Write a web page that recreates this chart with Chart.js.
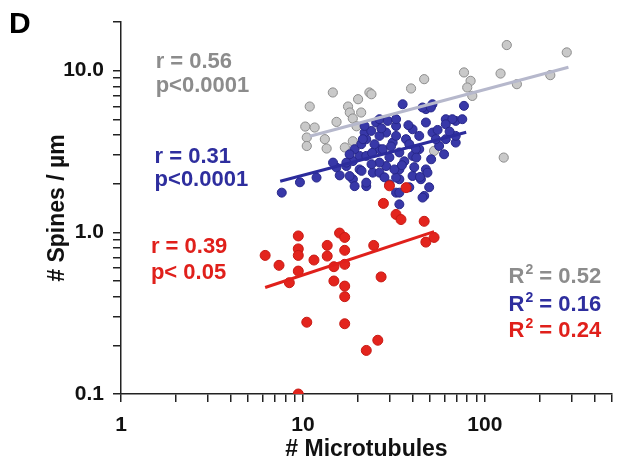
<!DOCTYPE html>
<html>
<head>
<meta charset="utf-8">
<script src="https://cdn.jsdelivr.net/npm/chart.js@4.4.1/dist/chart.umd.min.js"></script>
<style>
  html, body { margin: 0; padding: 0; background: #fff; }
</style>
</head>
<body>
<canvas id="chart" width="632" height="466"></canvas>
<script>
// values (log-log axes)
const grayX = [132, 282, 76.8, 83.5, 122, 150, 229, 80, 85.3, 46.4, 39.3, 14.6, 23.2, 20.1, 10.9, 17.7, 18.1, 20.9, 18.8, 15.3,
               10.3, 11.6, 10.5, 13.2, 10.5, 13.5, 17.0, 127, 52.6, 19.7, 18.8, 23.8];
const grayY = [14.4, 12.97, 9.75, 8.65, 9.6, 8.25, 9.38, 7.87, 6.98, 8.86, 7.76, 7.33, 7.33, 6.66, 6.0, 6.0, 5.51, 5.51, 5.06, 4.82,
               4.51, 4.45, 3.86, 3.77, 3.42, 3.30, 3.35, 2.90, 3.19, 4.53, 3.66, 7.15];

const blueX = [7.65, 11.88, 15.29, 17.33, 18.83, 20.49, 19.24, 20.93, 22.29, 21.82, 23.74, 25.27, 26.35, 29.25, 32.51, 35.33, 47.42, 51.52,
               76.78, 60.99, 69.17, 75.16, 60.99, 69.17, 47.42, 40.06, 33.89, 28.67, 24.23, 18.83, 22.29, 32.51, 46.42, 33.89, 33.89,
               40.06, 26.35, 31.15, 36.87, 43.59, 51.52, 56.07, 43.59, 26.35, 22.29, 28.67, 40.06, 47.42, 45.44, 50.5, 66.27, 60.99,
               32.51, 21.82, 69.17, 53.78, 21.36, 26.35, 32.51, 27.47, 33.89, 41.82, 17.33, 14.64, 19.24, 22.29, 32.51, 33.89, 45.44,
               44.53, 48.38, 26.35, 18.06, 29.88, 36.09, 23.83, 38.43, 29.88, 50.68, 59.7, 24.74, 18.06, 40.93, 31.82, 49.43, 38.43,
               20.49, 28.06, 15.93, 9.63, 24.0, 30.5, 35.0, 42.0, 27.0, 38.0, 44.0, 21.0, 55.0, 64.0];
const blueY = [1.76, 2.18, 2.52, 2.57, 2.76, 2.97, 3.27, 3.51, 3.77, 4.14, 4.24, 4.78, 5.01, 4.89, 4.55, 6.2, 5.78, 6.2,
               6.06, 5.01, 4.89, 5.01, 3.77, 3.59, 2.45, 2.23, 2.13, 2.57, 2.34, 2.13, 1.93, 1.76, 1.68, 1.49, 2.45,
               2.97, 3.27, 3.59, 3.77, 3.95, 4.14, 3.42, 3.27, 2.7, 2.97, 4.14, 4.34, 4.78, 5.92, 5.92, 5.01, 4.66,
               5.01, 4.55, 3.95, 3.77, 3.77, 3.95, 3.95, 3.27, 3.12, 3.27, 2.7, 2.7, 1.93, 2.03, 2.18, 1.76, 1.64,
               2.13, 2.34, 2.34, 2.23, 2.91, 2.75, 2.64, 1.9, 1.98, 2.83, 3.04, 3.51, 3.04, 2.53, 2.45, 1.9, 3.51,
               2.45, 2.19, 2.25, 2.04, 3.1, 3.4, 2.6, 2.9, 4.4, 4.6, 2.2, 2.4, 4.3, 4.2];

const redX = [6.2, 7.39, 9.43, 9.43, 9.43, 9.43, 8.42, 11.5, 13.6, 13.6, 14.8, 14.8, 15.9, 16.97, 16.97, 16.97, 16.97,
              16.97, 24.5, 26.9, 10.5, 16.97, 22.3, 25.8, 29.9, 36.9, 27.7, 32.5, 34.6, 46.4, 47.4, 52.6, 9.43];
const redY = [0.72, 0.625, 0.95, 0.79, 0.72, 0.576, 0.488, 0.674, 0.83, 0.713, 0.613, 0.5, 0.99, 0.93, 0.774, 0.634, 0.465,
              0.4, 0.83, 0.53, 0.278, 0.272, 0.186, 0.215, 1.94, 1.89, 1.51, 1.29, 1.2, 1.17, 0.87, 0.93, 0.1];

// regression lines (end points)
const grayFitX = [10.9, 288];
const grayFitY = [3.93, 10.5];
const blueFitX = [7.5, 79];
const blueFitY = [2.07, 4.16];
const redFitX = [6.2, 52.6];
const redFitY = [0.456, 1.01];

// axis ticks
const xTicks = [1, 2, 3, 4, 5, 6, 7, 8, 9, 10, 20, 30, 40, 50, 60, 70, 80, 90, 100, 200, 300, 400, 500];
const xLabelValues = [1, 10, 100];
const xLabelText = ['1', '10', '100'];
const yTicks = [0.1, 0.2, 0.3, 0.4, 0.5, 0.6, 0.7, 0.8, 0.9, 1, 2, 3, 4, 5, 6, 7, 8, 9, 10, 20];
const yLabelValues = [0.1, 1, 10];
const yLabelText = ['0.1', '1.0', '10.0'];

const GRAY = '#8c8c8c';
const BLUE = '#2e2e9e';
const RED = '#e0201b';
const FAMILY = '"Liberation Sans", Arial, Helvetica, sans-serif';

function toPoints(xs, ys) {
    return xs.map((x, i) => ({ x: x, y: ys[i] }));
}

// text placed in data coordinates
const notes = [
    { text: 'r = 0.56', x: 1.55, y: 10.36, color: GRAY },
    { text: 'p<0.0001', x: 1.55, y: 7.36, color: GRAY },
    { text: 'r = 0.31', x: 1.53, y: 2.67, color: BLUE },
    { text: 'p<0.0001', x: 1.53, y: 1.93, color: BLUE },
    { text: 'r = 0.39', x: 1.46, y: 0.741, color: RED },
    { text: 'p< 0.05', x: 1.46, y: 0.512, color: RED },
    { text: ' = 0.52', sup: true, x: 135, y: 0.483, color: GRAY },
    { text: ' = 0.16', sup: true, x: 135, y: 0.324, color: BLUE },
    { text: ' = 0.24', sup: true, x: 135, y: 0.224, color: RED }
];

const notesPlugin = {
    id: 'notes',
    afterDraw(chart) {
        const ctx = chart.ctx;
        const xs = chart.scales.x, ys = chart.scales.y;
        ctx.save();
        ctx.textBaseline = 'alphabetic';
        ctx.textAlign = 'left';
        notes.forEach(n => {
            let px = xs.getPixelForValue(n.x);
            const py = ys.getPixelForValue(n.y);
            ctx.fillStyle = n.color;
            ctx.font = 'bold 22px ' + FAMILY;
            if (n.sup) {
                ctx.fillText('R', px, py);
                px += ctx.measureText('R').width;
                ctx.font = 'bold 14px ' + FAMILY;
                ctx.fillText('2', px + 1, py - 9);
                px += ctx.measureText('2').width + 1;
                ctx.font = 'bold 22px ' + FAMILY;
            }
            ctx.fillText(n.text, px, py);
        });
        // panel letter
        ctx.fillStyle = '#000';
        ctx.font = 'bold 30px ' + FAMILY;
        ctx.fillText('D', 9, 33);
        ctx.restore();
    }
};

function fitSet(xs, ys, color) {
    return {
        data: toPoints(xs, ys),
        showLine: true,
        borderColor: color,
        borderWidth: 3,
        pointRadius: 0,
        fill: false
    };
}

function dotSet(xs, ys, fill, edge, r) {
    return {
        data: toPoints(xs, ys),
        backgroundColor: fill,
        borderColor: edge,
        borderWidth: 1,
        pointRadius: r,
        showLine: false
    };
}

const axisFont = { family: FAMILY, size: 21, weight: 'bold' };
const titleFont = { family: FAMILY, size: 23, weight: 'bold' };

new Chart(document.getElementById('chart').getContext('2d'), {
    type: 'scatter',
    data: {
        datasets: [
            fitSet(redFitX, redFitY, RED),
            fitSet(blueFitX, blueFitY, '#2c2c9c'),
            fitSet(grayFitX, grayFitY, '#b6b8cc'),
            dotSet(redX, redY, '#e3241d', '#c71a14', 5),
            dotSet(blueX, blueY, '#3838a8', '#27278a', 4.5),
            dotSet(grayX, grayY, '#c9c9c9', '#8d8d8d', 4.6)
        ]
    },
    options: {
        responsive: false,
        animation: false,
        layout: { padding: { top: 22, right: 20, left: 0, bottom: 0 } },
        plugins: {
            legend: { display: false },
            tooltip: { enabled: false }
        },
        scales: {
            x: {
                type: 'logarithmic',
                min: 1,
                max: 500,
                afterFit: s => { s.height = 72; },
                afterBuildTicks: s => { s.ticks = xTicks.map(v => ({ value: v })); },
                ticks: {
                    autoSkip: false,
                    maxRotation: 0,
                    padding: 11,
                    color: '#111',
                    font: axisFont,
                    callback: v => {
                        const i = xLabelValues.indexOf(v);
                        return i >= 0 ? xLabelText[i] : '';
                    }
                },
                grid: { drawOnChartArea: false, drawTicks: true, tickLength: 8, color: '#222', lineWidth: 1.5 },
                border: { color: '#222', width: 1.5 },
                title: { display: true, text: '# Microtubules', color: '#111', font: titleFont, padding: { top: 0, bottom: 3 } }
            },
            y: {
                type: 'logarithmic',
                min: 0.1,
                max: 20,
                afterFit: s => { s.width = 121; },
                afterBuildTicks: s => { s.ticks = yTicks.map(v => ({ value: v })); },
                ticks: {
                    autoSkip: false,
                    padding: 9,
                    color: '#111',
                    font: axisFont,
                    callback: v => {
                        const i = yLabelValues.indexOf(v);
                        return i >= 0 ? yLabelText[i] : '';
                    }
                },
                grid: { drawOnChartArea: false, drawTicks: true, tickLength: 8, color: '#222', lineWidth: 1.5 },
                border: { color: '#222', width: 1.5 },
                title: { display: true, text: '# Spines / µm', color: '#111', font: titleFont, padding: { top: 44, bottom: 0 } }
            }
        }
    },
    plugins: [notesPlugin]
});
</script>
</body>
</html>
